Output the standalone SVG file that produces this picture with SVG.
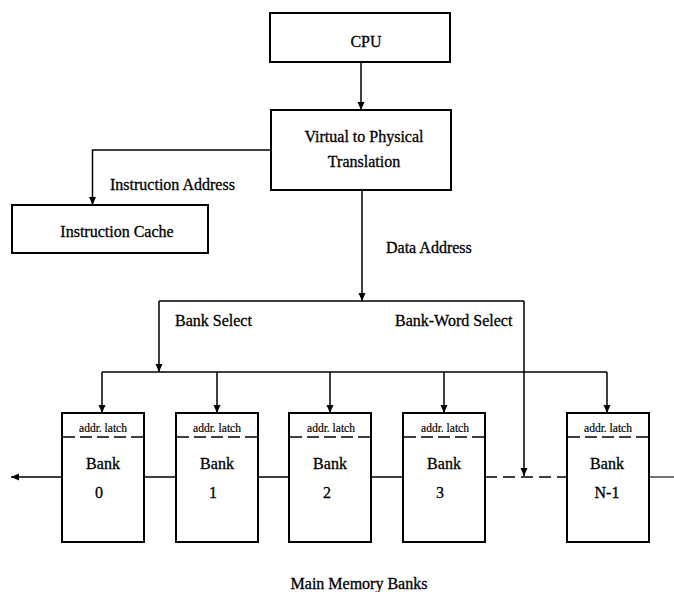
<svg xmlns="http://www.w3.org/2000/svg" width="674" height="592" viewBox="0 0 674 592">
  <style>
    .box { fill: #fff; stroke: #000; stroke-width: 2; }
    .wire { fill: none; stroke: #000; stroke-width: 1.5; }
    .arrow { marker-end: url(#head); }
    .dash { stroke-dasharray: 12 6; }
    .thin { stroke-width: 1.1; }
    .latch { fill: none; stroke: #000; stroke-width: 1.5; stroke-dasharray: 12 5; }
    text { font-family: "Liberation Serif", "Times New Roman", serif; fill: #000; stroke: #000; stroke-width: 0.3; text-anchor: middle; }
    .lbl { font-size: 16px; }
    .small { font-size: 11.5px; stroke-width: 0.2; }
    .start { text-anchor: start; }
  </style>
  <defs>
    <marker id="head" markerUnits="userSpaceOnUse" markerWidth="9" markerHeight="8" refX="8" refY="3.5" orient="auto">
      <path d="M0,0 L8,3.5 L0,7 z" fill="#000"/>
    </marker>
  </defs>

  <!-- connectors -->
  <g id="connectors">
    <path class="wire arrow" d="M361,62 V110"/>
    <path class="wire arrow" d="M271,150 H92.5 V205"/>
    <path class="wire arrow" d="M362,190 V301"/>
    <path class="wire" d="M159,301 H524"/>
    <path class="wire arrow" d="M159,301 V372"/>
    <path class="wire" d="M102,372 H607"/>
    <path class="wire arrow" d="M102,372 V413"/>
    <path class="wire arrow" d="M217,372 V413"/>
    <path class="wire arrow" d="M330,372 V413"/>
    <path class="wire arrow" d="M444,372 V413"/>
    <path class="wire arrow" d="M607,372 V413"/>
    <path class="wire arrow" d="M524,301 V476"/>
    <!-- memory bus -->
    <path class="wire arrow" d="M62,477 H11"/>
    <path class="wire" d="M144,477 H176"/>
    <path class="wire" d="M257,477 H289"/>
    <path class="wire" d="M371,477 H403"/>
    <path class="wire dash" d="M485,477 H567"/>
    <path class="wire thin" d="M649,477 H674"/>
  </g>

  <g id="cpu">
    <rect class="box" x="270" y="13" width="180" height="49"/>
    <text class="lbl" x="366" y="47">CPU</text>
  </g>

  <g id="translation">
    <rect class="box" x="271" y="110" width="180" height="80"/>
    <text class="lbl" x="364" y="142">Virtual to Physical</text>
    <text class="lbl" x="364" y="167">Translation</text>
  </g>

  <g id="icache">
    <rect class="box" x="12" y="205" width="196" height="48"/>
    <text class="lbl" x="117" y="237">Instruction Cache</text>
  </g>

  <g id="labels">
    <text class="lbl start" x="110" y="190">Instruction Address</text>
    <text class="lbl start" x="386" y="253">Data Address</text>
    <text class="lbl start" x="175" y="326">Bank Select</text>
    <text class="lbl start" x="395" y="326">Bank-Word Select</text>
    <text class="lbl" x="359" y="589">Main Memory Banks</text>
  </g>

  <g id="bank0">
    <rect class="box" x="62" y="413" width="82" height="129"/>
    <text class="small" x="103" y="432">addr. latch</text>
    <line class="latch" x1="63" y1="437" x2="143" y2="437"/>
    <text class="lbl" x="103" y="469">Bank</text>
    <text class="lbl" x="99" y="498">0</text>
  </g>

  <g id="bank1">
    <rect class="box" x="176" y="413" width="82" height="129"/>
    <text class="small" x="217" y="432">addr. latch</text>
    <line class="latch" x1="177" y1="437" x2="257" y2="437"/>
    <text class="lbl" x="217" y="469">Bank</text>
    <text class="lbl" x="213" y="498">1</text>
  </g>

  <g id="bank2">
    <rect class="box" x="289" y="413" width="82" height="129"/>
    <text class="small" x="331" y="432">addr. latch</text>
    <line class="latch" x1="290" y1="437" x2="370" y2="437"/>
    <text class="lbl" x="330" y="469">Bank</text>
    <text class="lbl" x="327" y="498">2</text>
  </g>

  <g id="bank3">
    <rect class="box" x="403" y="413" width="82" height="129"/>
    <text class="small" x="445" y="432">addr. latch</text>
    <line class="latch" x1="404" y1="437" x2="484" y2="437"/>
    <text class="lbl" x="444" y="469">Bank</text>
    <text class="lbl" x="440" y="498">3</text>
  </g>

  <g id="bankN1">
    <rect class="box" x="567" y="413" width="82" height="129"/>
    <text class="small" x="608" y="432">addr. latch</text>
    <line class="latch" x1="568" y1="437" x2="648" y2="437"/>
    <text class="lbl" x="607" y="469">Bank</text>
    <text class="lbl" x="607" y="498">N-1</text>
  </g>
</svg>
